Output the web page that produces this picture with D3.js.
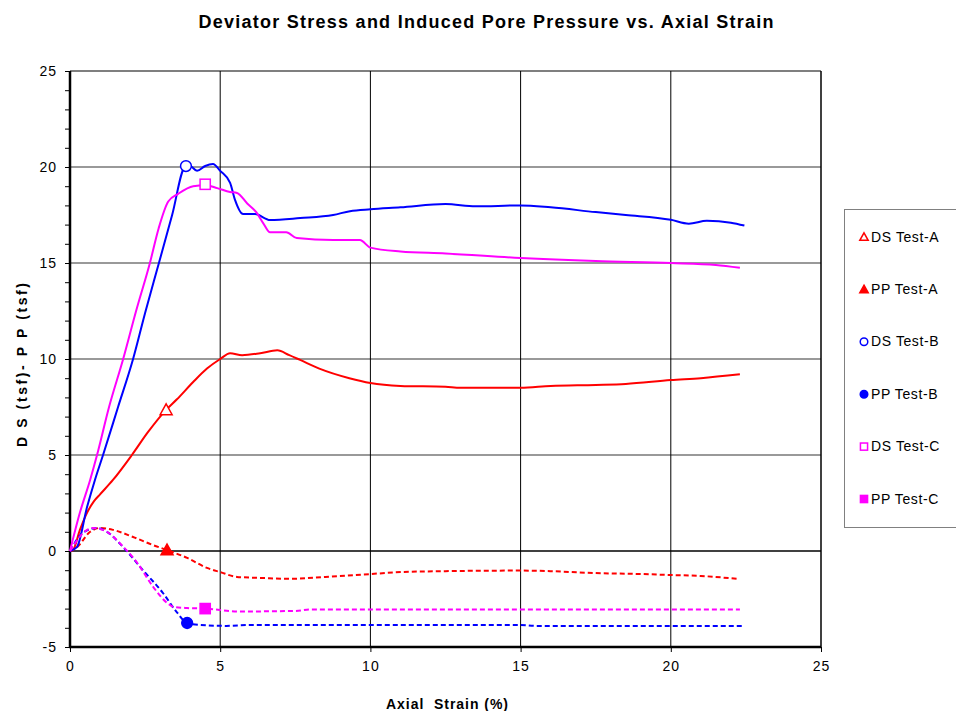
<!DOCTYPE html>
<html>
<head>
<meta charset="utf-8">
<script src="https://cdn.jsdelivr.net/npm/d3@7"></script>
<style>
  body { margin: 0; background: #fff; }
  svg { font-family: "Liberation Sans", Arial, sans-serif; }
</style>
</head>
<body>
<svg id="chart" width="956" height="711"></svg>
<script>
// axial strain (%) vs value (tsf)
var dsA = [[0,0],[0.1,0.05],[0.33,1.1],[0.57,2.0],[0.8,2.6],[1.0,2.95],[1.43,3.7],[2.06,5.0],[2.6,6.2],[3.2,7.35],[3.56,7.9],[4.1,8.8],[4.56,9.5],[5.0,10.0],[5.33,10.3],[5.73,10.2],[6.33,10.3],[6.9,10.45],[7.3,10.2],[7.66,9.95],[8.3,9.5],[9.3,9.0],[10,8.75],[11,8.6],[12.5,8.55],[13,8.5],[15,8.5],[16,8.6],[17.5,8.65],[18.5,8.7],[20,8.9],[21,9.0],[22.3,9.2]];
var ppA = [[0,0],[0.23,0.2],[0.67,1.0],[1.0,1.2],[1.43,1.1],[2.1,0.73],[2.76,0.31],[3.23,0.05],[3.9,-0.36],[4.56,-0.88],[5.0,-1.1],[5.56,-1.35],[6.33,-1.4],[7.3,-1.45],[8.5,-1.35],[10,-1.2],[11,-1.1],[12.5,-1.05],[15,-1.02],[16,-1.05],[17.5,-1.15],[19,-1.2],[20,-1.25],[21,-1.3],[22.2,-1.45]];
var dsB = [[0,0],[0.23,0.2],[0.57,2.3],[0.83,3.7],[1.1,5.0],[1.6,7.5],[2.1,10.0],[2.5,12.4],[2.96,15.0],[3.4,17.5],[3.83,20.0],[4.0,20.05],[4.23,19.8],[4.5,20.05],[4.76,20.15],[5.0,19.8],[5.33,19.17],[5.49,18.3],[5.76,17.55],[6.16,17.55],[6.66,17.24],[7.66,17.34],[8.76,17.5],[9.32,17.7],[10,17.8],[11,17.9],[12.5,18.07],[13.5,17.95],[15,18.0],[16,17.9],[17.5,17.65],[18.5,17.5],[20,17.25],[20.6,17.05],[21.2,17.2],[22.0,17.1],[22.45,16.95]];
var ppB = [[0,0],[0.43,0.95],[0.9,1.2],[1.23,1.0],[1.77,0.2],[2.43,-1.0],[3.1,-2.2],[3.56,-3.2],[3.9,-3.75],[4.33,-3.85],[5.2,-3.9],[6.0,-3.85],[10,-3.85],[15,-3.85],[15.5,-3.9],[22.45,-3.9]];
var dsC = [[0,0],[0.33,2.0],[0.67,3.7],[0.9,5.0],[1.3,7.5],[1.77,10.0],[2.2,12.5],[2.66,15.0],[2.95,16.8],[3.27,18.2],[3.6,18.6],[4.1,19.0],[4.5,19.05],[4.9,18.9],[5.33,18.7],[5.56,18.65],[5.9,18.1],[6.2,17.65],[6.43,17.08],[6.66,16.6],[7.2,16.6],[7.55,16.3],[8.76,16.2],[9.65,16.2],[10,15.8],[11,15.6],[12.5,15.5],[15,15.26],[17.5,15.1],[20,15.0],[21.5,14.9],[22.3,14.75]];
var ppC = [[0,0],[0.57,1.1],[0.77,1.2],[1.23,1.0],[1.66,0.4],[2.23,-0.6],[2.76,-1.85],[3.23,-2.7],[3.43,-2.9],[3.9,-2.97],[4.5,-3.0],[5.66,-3.15],[7.5,-3.12],[8,-3.05],[22.3,-3.05]];

var seriesNames = ["DS Test-A", "PP Test-A", "DS Test-B", "PP Test-B", "DS Test-C", "PP Test-C"];
var seriesData = [dsA, ppA, dsB, ppB, dsC, ppC];
var seriesColors = ["#ff0000", "#ff0000", "#0000ff", "#0000ff", "#ff00ff", "#ff00ff"];
var seriesDashed = [false, true, false, true, false, true];
var markerShapes = ["triangle", "triangle", "circle", "circle", "square", "square"];
var markerFilled = [false, true, false, true, false, true];
// one marker per series
var markerPoints = [[3.2, 7.35], [3.23, 0.05], [3.86, 20.05], [3.9, -3.75], [4.5, 19.1], [4.5, -3.0]];

var xTicks = [0, 5, 10, 15, 20, 25];
var yTicks = [-5, 0, 5, 10, 15, 20, 25];

var svg = d3.select("#chart");
var plotL = 70, plotR = 821, plotT = 71, plotB = 647;

var x = d3.scaleLinear().domain([0, 25]).range([plotL, plotR]);
var y = d3.scaleLinear().domain([-5, 25]).range([plotB, plotT]);

// grid
svg.append("g").selectAll("line")
  .data(yTicks.filter(function(d){ return d > -5; }))
  .enter().append("line")
  .attr("x1", plotL).attr("x2", plotR)
  .attr("y1", function(d){ return y(d); }).attr("y2", function(d){ return y(d); })
  .attr("stroke", function(d){ return (d === 0 || d === 25) ? "#000" : "#777"; })
  .attr("stroke-width", function(d){ return d === 25 ? 1.2 : 1.5; });

svg.append("g").selectAll("line")
  .data(xTicks.filter(function(d){ return d > 0; }))
  .enter().append("line")
  .attr("x1", function(d){ return x(d); }).attr("x2", function(d){ return x(d); })
  .attr("y1", plotT).attr("y2", plotB)
  .attr("stroke", "#000")
  .attr("stroke-width", function(d){ return d === 25 ? 1.5 : 1; });

// axes
var yAxis = d3.axisLeft(y).tickValues(d3.range(-5, 26, 1)).tickSize(5)
  .tickFormat(function(d){ return d % 5 === 0 ? d : ""; });
var yG = svg.append("g").attr("transform", "translate(" + plotL + ",0)").call(yAxis);
yG.select(".domain").remove();
yG.selectAll("text").attr("font-size", 14).attr("fill", "#000").attr("x", -13)
  .attr("letter-spacing", 1)
  .attr("font-family", "Liberation Sans, Arial, sans-serif");

var xAxis = d3.axisBottom(x).tickValues(xTicks).tickSize(5);
var xG = svg.append("g").attr("transform", "translate(0," + plotB + ")").call(xAxis);
xG.select(".domain").remove();
xG.selectAll("text").attr("font-size", 14).attr("fill", "#000").attr("y", 14)
  .attr("letter-spacing", 1)
  .attr("font-family", "Liberation Sans, Arial, sans-serif");

svg.append("line").attr("x1", plotL).attr("x2", plotL).attr("y1", plotT).attr("y2", plotB + 1)
  .attr("stroke", "#000").attr("stroke-width", 2.5);
svg.append("line").attr("x1", plotL - 1).attr("x2", plotR).attr("y1", plotB).attr("y2", plotB)
  .attr("stroke", "#000").attr("stroke-width", 2.5);

// lines
var line = d3.line()
  .x(function(d){ return x(d[0]); })
  .y(function(d){ return y(d[1]); })
  .curve(d3.curveMonotoneX);

svg.append("g").selectAll("path")
  .data(seriesData)
  .enter().append("path")
  .attr("d", line)
  .attr("fill", "none")
  .attr("stroke", function(d, i){ return seriesColors[i]; })
  .attr("stroke-width", 2)
  .attr("stroke-dasharray", function(d, i){ return seriesDashed[i] ? "5,3" : null; });

var drawMarker = function(g, i, cx, cy, size){
  var c = seriesColors[i];
  var fill = markerFilled[i] ? c : "#fff";
  var m;
  if (markerShapes[i] === "triangle") {
    m = g.append("path").attr("d", "M" + cx + "," + (cy - size) + "L" + (cx + size) + "," + (cy + size * 0.8) +
      "L" + (cx - size) + "," + (cy + size * 0.8) + "Z");
  } else if (markerShapes[i] === "circle") {
    m = g.append("circle").attr("cx", cx).attr("cy", cy).attr("r", size * 0.9);
  } else {
    m = g.append("rect").attr("x", cx - size * 0.85).attr("y", cy - size * 0.85)
      .attr("width", size * 1.7).attr("height", size * 1.7);
  }
  m.attr("fill", fill).attr("stroke", c).attr("stroke-width", 1.5);
};

var markG = svg.append("g");
markerPoints.forEach(function(p, i){
  drawMarker(markG, i, x(p[0]), y(p[1]), 6);
});

// title and labels
svg.append("text").attr("x", 486).attr("y", 28).attr("text-anchor", "middle")
  .attr("font-size", 18).attr("font-weight", "bold")
  .attr("textLength", 575).attr("lengthAdjust", "spacing")
  .text("Deviator Stress and Induced Pore Pressure vs. Axial Strain");

svg.append("text").attr("x", 447).attr("y", 709).attr("text-anchor", "middle")
  .attr("font-size", 14).attr("font-weight", "bold")
  .attr("textLength", 122).attr("lengthAdjust", "spacing")
  .style("white-space", "pre").text("Axial  Strain (%)");

svg.append("text").attr("transform", "translate(27,365) rotate(-90)").attr("text-anchor", "middle")
  .attr("font-size", 14).attr("font-weight", "bold")
  .attr("textLength", 164).attr("lengthAdjust", "spacing")
  .text("D S (tsf)- P P (tsf)");

// legend
var legend = svg.append("g");
legend.append("rect").attr("x", 844.5).attr("y", 209.5).attr("width", 130).attr("height", 318)
  .attr("fill", "#fff").attr("stroke", "#808080").attr("stroke-width", 1);

seriesNames.forEach(function(name, i){
  var ly = 237 + i * 52.4;
  drawMarker(legend, i, 864, ly, 4.2);
  legend.append("text").attr("x", 871).attr("y", ly + 4.5).attr("font-size", 14)
    .attr("letter-spacing", 0.6).text(name);
});
</script>
</body>
</html>
